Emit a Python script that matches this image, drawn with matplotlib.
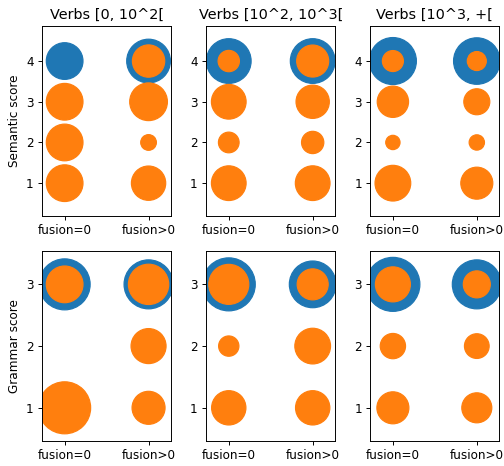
import numpy as np
import matplotlib
matplotlib.use("Agg")
from matplotlib import pyplot as plt

# bins of verb frequency, one column each
titles = ["Verbs [0, 10^2[", "Verbs [10^2, 10^3[", "Verbs [10^3, +["]
xlabels = ["fusion=0", "fusion>0"]

# semantic score: marker areas (pt^2) per score 1..4, fusion=0 / fusion>0
sem_scores = [1, 2, 3, 4]
sem_orange_f0 = [[935, 935, 935, 0],
                 [836, 297, 836, 315],
                 [885, 142, 681, 306]]
sem_orange_f1 = [[817, 171, 987, 724],
                 [836, 345, 770, 711],
                 [711, 163, 469, 251]]
sem_blue = [[935, 1326],
            [1388, 1388],
            [1534, 1501]]

# grammar score: marker areas per score 1..3
gram_scores = [1, 2, 3]
gram_orange_f0 = [[1878, 0, 935],
                  [817, 286, 1111],
                  [711, 444, 851]]
gram_orange_f1 = [[756, 851, 1128],
                  [817, 885, 667],
                  [625, 424, 506]]
gram_blue = [[1806, 1667],
             [1951, 1515],
             [2025, 1667]]

DPI = 86.4
fig, axes = plt.subplots(2, 3, figsize=(504 / DPI, 466 / DPI), dpi=DPI)
plt.subplots_adjust(left=0.0833, right=0.991, top=0.945, bottom=0.054,
                    wspace=0.27, hspace=0.184)

rows = [(sem_scores, sem_orange_f0, sem_orange_f1, sem_blue, "Semantic score", (0.2, 4.87)),
        (gram_scores, gram_orange_f0, gram_orange_f1, gram_blue, "Grammar score", (0.465, 3.545))]

for r, (scores, o0, o1, blue, ylab, ylim) in enumerate(rows):
    top = max(scores)
    for c in range(3):
        ax = axes[r, c]
        ax.scatter([0, 1], [top, top], s=blue[c], color="tab:blue")
        ax.scatter(np.zeros(len(scores)), scores, s=o0[c], color="tab:orange")
        ax.scatter(np.ones(len(scores)), scores, s=o1[c], color="tab:orange")
        ax.set_xticks([0, 1])
        ax.set_xticklabels(xlabels)
        ax.set_yticks(scores)
        ax.set_xlim(-0.27, 1.27)
        ax.set_ylim(*ylim)
        if r == 0:
            ax.set_title(titles[c])
        if c == 0:
            ax.set_ylabel(ylab)

plt.savefig("out.png", dpi=DPI)
